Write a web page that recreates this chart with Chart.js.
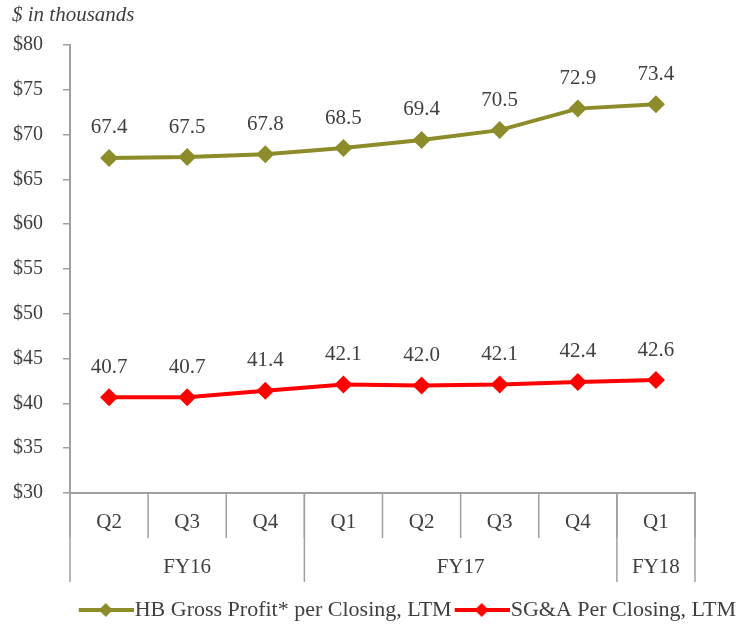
<!DOCTYPE html>
<html>
<head>
<meta charset="utf-8">
<script src="https://cdn.jsdelivr.net/npm/chart.js@4"></script>
<style>
  body { margin: 0; background: #fff; }
</style>
</head>
<body>
<canvas id="chart" width="750" height="631"></canvas>
<script>
// Data
const quarters = ['Q2', 'Q3', 'Q4', 'Q1', 'Q2', 'Q3', 'Q4', 'Q1'];
const fiscalYears = ['FY16', 'FY17', 'FY18'];
const fiscalSpans = [3, 4, 1];
const grossProfit = [67.4, 67.5, 67.8, 68.5, 69.4, 70.5, 72.9, 73.4];
const sgaPerClosing = [40.7, 40.7, 41.4, 42.1, 42.0, 42.1, 42.4, 42.6];

const FONT = "'Liberation Serif', serif";
const TEXT = '#404040';
const AXIS = '#a0a0a0';
const OLIVE = '#8c8c2a';
const RED = '#ff0000';

// legend swatch: line with a diamond in the middle (box is 40 wide, image 60)
function swatch(color) {
    const c = document.createElement('canvas');
    c.width = 60; c.height = 16;
    const g = c.getContext('2d');
    g.strokeStyle = color; g.lineWidth = 4;
    g.beginPath(); g.moveTo(5, 8); g.lineTo(60, 8); g.stroke();
    g.fillStyle = color;
    g.beginPath(); g.moveTo(25, 8); g.lineTo(32, 1); g.lineTo(39, 8); g.lineTo(32, 15); g.closePath(); g.fill();
    return c;
}

// value labels above each point
const valueLabels = {
    id: 'valueLabels',
    afterDatasetsDraw(chart) {
        const ctx = chart.ctx;
        ctx.save();
        ctx.font = '21px ' + FONT;
        ctx.fillStyle = TEXT;
        ctx.textAlign = 'center';
        ctx.textBaseline = 'middle';
        chart.data.datasets.forEach((ds, i) => {
            chart.getDatasetMeta(i).data.forEach((pt, j) => {
                ctx.fillText(ds.data[j].toFixed(1), pt.x, pt.y - 30);
            });
        });
        ctx.restore();
    }
};

// two-level category axis: quarters, then fiscal years
const groupedAxis = {
    id: 'groupedAxis',
    afterDraw(chart) {
        const ctx = chart.ctx;
        const x = chart.scales.x;
        const bottom = chart.chartArea.bottom;
        const half = (x.getPixelForValue(1) - x.getPixelForValue(0)) / 2;
        const edge = i => x.getPixelForValue(i) - half;
        ctx.save();
        ctx.strokeStyle = AXIS;
        ctx.lineWidth = 1.5;
        ctx.font = '21px ' + FONT;
        ctx.fillStyle = TEXT;
        ctx.textAlign = 'center';
        ctx.textBaseline = 'middle';
        for (let i = 0; i <= quarters.length; i++) {
            ctx.beginPath(); ctx.moveTo(edge(i), bottom); ctx.lineTo(edge(i), bottom + 45); ctx.stroke();
        }
        quarters.forEach((q, i) => ctx.fillText(q, x.getPixelForValue(i), bottom + 29));
        let start = 0;
        ctx.beginPath(); ctx.moveTo(edge(0), bottom); ctx.lineTo(edge(0), bottom + 89); ctx.stroke();
        fiscalYears.forEach((fy, k) => {
            const end = start + fiscalSpans[k];
            ctx.beginPath(); ctx.moveTo(edge(end), bottom); ctx.lineTo(edge(end), bottom + 89); ctx.stroke();
            ctx.fillText(fy, (edge(start) + edge(end)) / 2, bottom + 74);
            start = end;
        });
        ctx.restore();
    }
};

new Chart(document.getElementById('chart'), {
    type: 'line',
    data: {
        labels: quarters,
        datasets: [
            {
                label: 'HB Gross Profit* per Closing, LTM',
                data: grossProfit,
                borderColor: OLIVE, backgroundColor: OLIVE,
                borderWidth: 4, tension: 0,
                pointStyle: 'rectRot', pointRadius: 9, pointBorderWidth: 0
            },
            {
                label: 'SG&A Per Closing, LTM',
                data: sgaPerClosing,
                borderColor: RED, backgroundColor: RED,
                borderWidth: 4, tension: 0,
                pointStyle: 'rectRot', pointRadius: 9, pointBorderWidth: 0
            }
        ]
    },
    options: {
        responsive: false,
        animation: false,
        layout: { padding: { left: 12, right: 6, top: 0, bottom: 0 } },
        plugins: {
            title: {
                display: true,
                text: '$ in thousands',
                align: 'start',
                color: TEXT,
                font: { family: FONT, size: 21, style: 'italic', weight: 'normal' },
                padding: { top: 3, bottom: 16.8 }
            },
            legend: {
                position: 'bottom',
                align: 'end',
                labels: {
                    usePointStyle: true,
                    pointStyleWidth: 40,
                    color: TEXT,
                    font: { family: FONT, size: 22 },
                    padding: 8,
                    generateLabels(chart) {
                        return chart.data.datasets.map((ds, i) => ({
                            text: ds.label,
                            pointStyle: swatch(ds.borderColor),
                            fillStyle: ds.borderColor,
                            strokeStyle: ds.borderColor,
                            lineWidth: 0,
                            fontColor: TEXT,
                            datasetIndex: i
                        }));
                    }
                }
            },
            tooltip: { enabled: false }
        },
        scales: {
            x: {
                offset: true,
                grid: { display: false },
                border: { display: true, color: AXIS, width: 2 },
                ticks: { display: false },
                afterFit(scale) { scale.height = 98; }
            },
            y: {
                min: 30, max: 80,
                grid: { drawOnChartArea: false, color: AXIS, tickLength: 7, lineWidth: 1.5 },
                border: { display: true, color: AXIS, width: 2 },
                ticks: {
                    stepSize: 5,
                    padding: 20,
                    color: TEXT,
                    font: { family: FONT, size: 20 },
                    callback: v => '$' + v
                },
                afterFit(scale) { scale.width = 58; }
            },
            // empty right-hand gutter so the plot ends where the reference's does
            gutter: {
                type: 'linear',
                position: 'right',
                ticks: { display: false },
                grid: { display: false },
                border: { display: false },
                afterFit(scale) { scale.width = 49; }
            }
        }
    },
    plugins: [valueLabels, groupedAxis]
});
</script>
</body>
</html>
